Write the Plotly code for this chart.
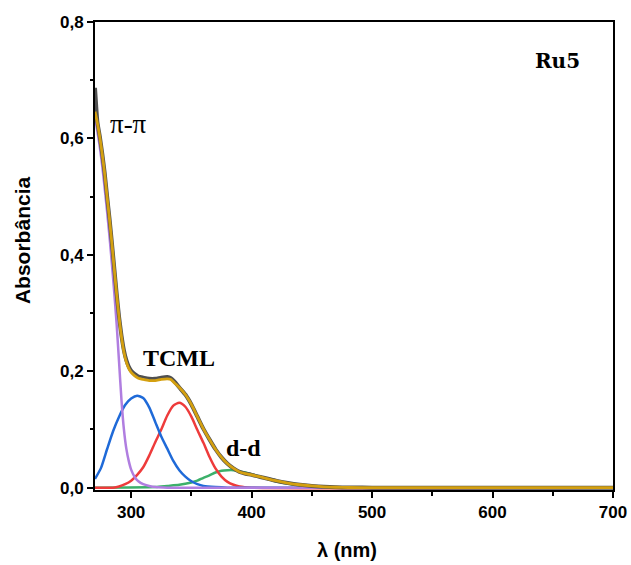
import plotly.graph_objects as go

# wavelength grids (nm) and absorbance values
wl_pipi = [270, 272, 274, 276, 278, 280, 282, 284, 286, 288, 290, 292, 294, 296, 298, 300, 303, 306, 310, 315, 320, 330, 400, 700]
abs_pipi = [0.635, 0.612, 0.585, 0.553, 0.515, 0.475, 0.432, 0.385, 0.335, 0.280, 0.215, 0.150, 0.100, 0.067, 0.046, 0.031, 0.018, 0.011, 0.006, 0.003, 0.001, 0.0, 0.0, 0.0]

wl_blue = [270, 275, 280, 285, 290, 295, 300, 305, 310, 315, 320, 325, 330, 335, 340, 345, 350, 355, 360, 370, 380, 700]
abs_blue = [0.015, 0.034, 0.066, 0.097, 0.122, 0.142, 0.153, 0.158, 0.154, 0.138, 0.113, 0.088, 0.067, 0.046, 0.030, 0.019, 0.011, 0.006, 0.003, 0.001, 0.0, 0.0]

wl_red = [270, 285, 290, 295, 300, 305, 310, 315, 320, 325, 330, 335, 340, 345, 350, 355, 360, 365, 370, 375, 380, 385, 390, 400, 700]
abs_red = [0.0, 0.0, 0.002, 0.006, 0.012, 0.022, 0.035, 0.055, 0.078, 0.100, 0.124, 0.141, 0.146, 0.139, 0.122, 0.099, 0.077, 0.053, 0.033, 0.019, 0.010, 0.005, 0.002, 0.0, 0.0]

wl_green = [270, 320, 330, 340, 350, 355, 360, 365, 370, 375, 380, 385, 390, 395, 400, 405, 410, 420, 430, 440, 450, 460, 470, 700]
abs_green = [0.0, 0.001, 0.003, 0.005, 0.009, 0.012, 0.017, 0.021, 0.026, 0.029, 0.030, 0.030, 0.028, 0.026, 0.023, 0.020, 0.017, 0.011, 0.007, 0.004, 0.002, 0.001, 0.0, 0.0]

wl_exp = [270, 271, 272, 274, 276, 278, 280, 282, 284, 286, 288, 290, 292, 294, 296, 298, 300, 303, 306, 310, 315, 320, 325, 330, 333, 336, 340, 345, 350, 355, 360, 365, 370, 375, 380, 385, 390, 395, 400, 410, 420, 430, 440, 450, 460, 470, 480, 500, 700]
abs_exp = [0.687, 0.655, 0.628, 0.603, 0.574, 0.541, 0.501, 0.463, 0.421, 0.377, 0.333, 0.293, 0.261, 0.236, 0.219, 0.208, 0.201, 0.195, 0.191, 0.189, 0.187, 0.187, 0.189, 0.190, 0.188, 0.182, 0.172, 0.160, 0.143, 0.122, 0.101, 0.083, 0.066, 0.052, 0.041, 0.033, 0.027, 0.024, 0.022, 0.017, 0.012, 0.008, 0.005, 0.003, 0.0015, 0.0007, 0.0003, 0.0, 0.0]

wl_fit = [270, 272, 274, 276, 278, 280, 282, 284, 286, 288, 290, 292, 294, 296, 298, 300, 303, 306, 310, 315, 320, 325, 330, 333, 336, 340, 345, 350, 355, 360, 365, 370, 375, 380, 385, 390, 395, 400, 410, 420, 430, 440, 450, 460, 470, 480, 500, 700]
abs_fit = [0.646, 0.626, 0.602, 0.573, 0.540, 0.500, 0.462, 0.420, 0.376, 0.332, 0.292, 0.259, 0.233, 0.216, 0.205, 0.198, 0.192, 0.188, 0.186, 0.184, 0.184, 0.186, 0.187, 0.186, 0.18, 0.172, 0.160, 0.143, 0.122, 0.101, 0.083, 0.066, 0.052, 0.041, 0.033, 0.027, 0.024, 0.022, 0.017, 0.012, 0.008, 0.005, 0.003, 0.0015, 0.0007, 0.0003, 0.0, 0.0]

x_ticks = [300, 400, 500, 600, 700]
y_ticks = [0.0, 0.2, 0.4, 0.6, 0.8]
y_tick_text = ["0,0", "0,2", "0,4", "0,6", "0,8"]

fig = go.Figure()

def add(x, y, color, width):
    fig.add_trace(go.Scatter(x=x, y=y, mode="lines", line=dict(color=color, width=width, shape="spline", smoothing=0.6),
                             showlegend=False, hoverinfo="skip"))

add(wl_green, abs_green, "#3cb06a", 2.5)
add(wl_red, abs_red, "#ee3b3b", 2.5)
add(wl_blue, abs_blue, "#1f6ad8", 2.5)
add(wl_pipi, abs_pipi, "#b07ee0", 2.5)
add(wl_exp, abs_exp, "#505050", 4)
add(wl_fit, abs_fit, "#d4a010", 2.8)

ann_common = dict(showarrow=False, xref="x", yref="y")
fig.add_annotation(x=298, y=0.625, text="π-π", font=dict(family="Liberation Serif", size=27, color="black"), **ann_common)
fig.add_annotation(x=340, y=0.222, text="<b>TCML</b>", font=dict(family="Liberation Serif", size=24, color="black"), **ann_common)
fig.add_annotation(x=393, y=0.068, text="<b>d-d</b>", font=dict(family="Liberation Serif", size=24, color="black"), **ann_common)
fig.add_annotation(x=654, y=0.733, text="<b>Ru5</b>", font=dict(family="DejaVu Serif", size=20, color="black"), **ann_common)

# axis titles as paper annotations
fig.add_annotation(x=0.4865, y=-0.128, xref="paper", yref="paper", showarrow=False, text="<b>λ (nm)</b>",
                   font=dict(family="Liberation Sans", size=20, color="black"), xanchor="center", yanchor="middle")
fig.add_annotation(x=-0.141, y=0.534, xref="paper", yref="paper", showarrow=False, text="<b>Absorbância</b>", textangle=-90,
                   font=dict(family="Liberation Sans", size=21, color="black"), xanchor="center", yanchor="middle")

axis_common = dict(showline=True, linecolor="black", linewidth=2, mirror=True, showgrid=False, zeroline=False,
                   ticks="outside", ticklen=6, tickwidth=2, tickcolor="black", automargin=False,
                   tickfont=dict(family="Liberation Sans", size=17, color="black", weight="bold"))

fig.update_xaxes(range=[270, 700], tickvals=x_ticks,
                 minor=dict(ticks="outside", ticklen=3.5, tickwidth=2, tickcolor="black", dtick=50, tick0=0),
                 **axis_common)
fig.update_yaxes(range=[-0.004, 0.8], tickvals=y_ticks, ticktext=y_tick_text,
                 minor=dict(ticks="outside", ticklen=3.5, tickwidth=2, tickcolor="black", dtick=0.1, tick0=0),
                 **axis_common)

fig.update_layout(width=631, height=565, margin=dict(l=95, r=18, t=22, b=75),
                  plot_bgcolor="white", paper_bgcolor="white")

fig.write_html("out.html", config={"displayModeBar": False},
               post_script="document.body.style.margin='0';document.body.style.overflow='hidden';")
